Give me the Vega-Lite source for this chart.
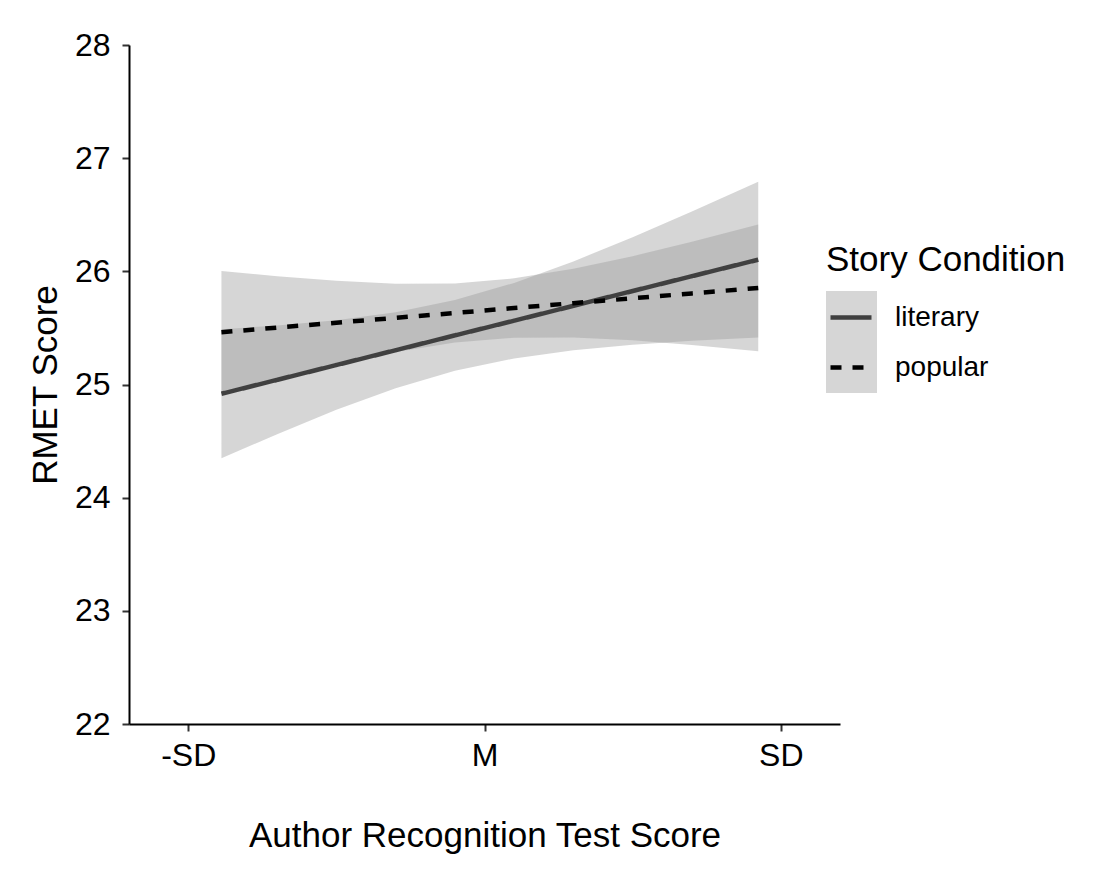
{
  "$schema": "https://vega.github.io/schema/vega-lite/v6.json",
  "width": 711,
  "height": 679,
  "autosize": {"type": "none"},
  "padding": {"left": 129, "top": 45, "right": 260, "bottom": 164},
  "background": "white",
  "config": {
    "view": {"stroke": null},
    "font": "Liberation Sans",
    "axis": {
      "grid": false,
      "domainColor": "black",
      "domainWidth": 2,
      "tickColor": "#333333",
      "tickWidth": 2,
      "tickSize": 7,
      "labelFontSize": 32,
      "labelColor": "black",
      "titleFontSize": 35,
      "titleFontWeight": "normal",
      "titleColor": "black"
    }
  },
  "datasets": {
    "fit": [
      {"condition": "literary", "art": -0.888, "rmet": 24.918, "lo": 24.348, "hi": 25.488},
      {"condition": "literary", "art": -0.7, "rmet": 25.041, "lo": 24.561, "hi": 25.521},
      {"condition": "literary", "art": -0.5, "rmet": 25.172, "lo": 24.776, "hi": 25.568},
      {"condition": "literary", "art": -0.3, "rmet": 25.303, "lo": 24.967, "hi": 25.639},
      {"condition": "literary", "art": -0.1, "rmet": 25.434, "lo": 25.121, "hi": 25.747},
      {"condition": "literary", "art": 0.1, "rmet": 25.564, "lo": 25.230, "hi": 25.898},
      {"condition": "literary", "art": 0.3, "rmet": 25.695, "lo": 25.302, "hi": 26.088},
      {"condition": "literary", "art": 0.5, "rmet": 25.826, "lo": 25.351, "hi": 26.301},
      {"condition": "literary", "art": 0.7, "rmet": 25.957, "lo": 25.386, "hi": 26.528},
      {"condition": "literary", "art": 0.924, "rmet": 26.103, "lo": 25.415, "hi": 26.791},
      {"condition": "popular", "art": -0.888, "rmet": 25.462, "lo": 24.922, "hi": 26.002},
      {"condition": "popular", "art": -0.7, "rmet": 25.503, "lo": 25.049, "hi": 25.957},
      {"condition": "popular", "art": -0.5, "rmet": 25.546, "lo": 25.176, "hi": 25.916},
      {"condition": "popular", "art": -0.3, "rmet": 25.589, "lo": 25.287, "hi": 25.891},
      {"condition": "popular", "art": -0.1, "rmet": 25.632, "lo": 25.371, "hi": 25.893},
      {"condition": "popular", "art": 0.1, "rmet": 25.676, "lo": 25.414, "hi": 25.938},
      {"condition": "popular", "art": 0.3, "rmet": 25.719, "lo": 25.416, "hi": 26.022},
      {"condition": "popular", "art": 0.5, "rmet": 25.762, "lo": 25.390, "hi": 26.134},
      {"condition": "popular", "art": 0.7, "rmet": 25.805, "lo": 25.349, "hi": 26.261},
      {"condition": "popular", "art": 0.924, "rmet": 25.853, "lo": 25.293, "hi": 26.413}
    ]
  },
  "data": {"name": "fit"},
  "encoding": {
    "x": {
      "field": "art",
      "type": "quantitative",
      "scale": {"domain": [-1.2, 1.2], "nice": false, "zero": false},
      "axis": {
        "title": "Author Recognition Test Score",
        "values": [-1, 0, 1],
        "labelExpr": "datum.value < 0 ? '-SD' : datum.value > 0 ? 'SD' : 'M'",
        "labelPadding": 9,
        "titlePadding": 47
      }
    }
  },
  "layer": [
    {
      "mark": {"type": "area", "opacity": 0.4},
      "encoding": {
        "y": {
          "field": "lo",
          "type": "quantitative",
          "scale": {"domain": [22, 28], "nice": false, "zero": false},
          "axis": {
            "title": "RMET Score",
            "values": [22, 23, 24, 25, 26, 27, 28],
            "format": "d",
            "labelPadding": 12,
            "titlePadding": 11
          }
        },
        "y2": {"field": "hi"},
        "fill": {
          "field": "condition",
          "type": "nominal",
          "scale": {"domain": ["literary", "popular"], "range": ["#999999", "#999999"]},
          "legend": {
            "title": "",
            "orient": "none",
            "legendX": 697,
            "legendY": 246,
            "padding": 0,
            "symbolType": "square",
            "symbolSize": 2601,
            "symbolOpacity": 0.4,
            "symbolStrokeWidth": 0,
            "rowPadding": 0,
            "labelExpr": "''",
            "labelFontSize": 1,
            "zindex": 0
          }
        }
      }
    },
    {
      "mark": {"type": "line", "strokeWidth": 4.5, "strokeCap": "butt"},
      "encoding": {
        "y": {"field": "rmet", "type": "quantitative"},
        "stroke": {
          "field": "condition",
          "type": "nominal",
          "scale": {"range": ["#404040", "#000000"]},
          "legend": {
            "title": "Story Condition",
            "orient": "none",
            "legendX": 697,
            "legendY": 198,
            "padding": 0,
            "titleFontSize": 35,
            "titleFontWeight": "normal",
            "titleColor": "black",
            "titleLimit": 400,
            "titlePadding": 16.5,
            "labelFontSize": 28,
            "labelColor": "black",
            "labelOffset": 21,
            "symbolType": "stroke",
            "symbolSize": 1681,
            "symbolStrokeWidth": 4.5,
            "symbolStrokeColor": "black",
            "symbolOffset": 2,
            "rowPadding": 13,
            "zindex": 1,
            "encode": {"symbols": {"update": {"stroke": {"value": "black"}}}}
          }
        },
        "strokeDash": {
          "field": "condition",
          "type": "nominal",
          "scale": {"range": [[1, 0], [11, 11]]},
          "legend": {
            "title": "Story Condition",
            "orient": "none",
            "legendX": 697,
            "legendY": 198,
            "padding": 0,
            "titleFontSize": 35,
            "titleFontWeight": "normal",
            "titleColor": "black",
            "titleLimit": 400,
            "titlePadding": 16.5,
            "labelFontSize": 28,
            "labelColor": "black",
            "labelOffset": 21,
            "symbolType": "stroke",
            "symbolSize": 1681,
            "symbolStrokeWidth": 4.5,
            "symbolStrokeColor": "black",
            "symbolOffset": 2,
            "rowPadding": 13,
            "zindex": 1,
            "encode": {"symbols": {"update": {"stroke": {"value": "black"}}}}
          }
        }
      }
    }
  ]
}
